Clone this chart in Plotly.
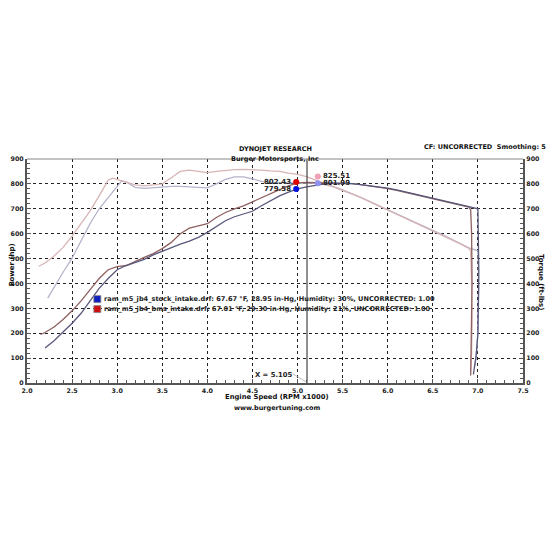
import plotly.graph_objects as go

# ---------------- data ----------------
stock_hp_rpm = [2.2, 2.3, 2.4, 2.5, 2.6, 2.7, 2.8, 2.9, 3.0, 3.1, 3.2, 3.3, 3.4, 3.5, 3.6, 3.7, 3.8, 3.9,
                4.0, 4.1, 4.2, 4.3, 4.4, 4.5, 4.6, 4.7, 4.8, 4.9, 5.0, 5.1, 5.2, 5.3, 5.4, 5.5, 5.6, 5.7,
                5.8, 5.9, 6.0, 6.1, 6.2, 6.3, 6.4, 6.5, 6.6, 6.7, 6.8, 6.9, 7.0, 7.01, 7.0, 6.98, 6.96, 6.95]
stock_hp = [141, 170, 205, 240, 280, 330, 380, 420, 455, 472, 485, 497, 515, 530, 545, 558, 570, 585,
            605, 630, 652, 668, 678, 690, 712, 733, 752, 767, 780, 788, 795, 800, 803, 803, 801, 797,
            793, 789, 783, 776, 768, 760, 752, 744, 736, 727, 718, 709, 700, 450, 200, 110, 60, 35]

stock_tq_rpm = [2.23, 2.3, 2.4, 2.5, 2.6, 2.7, 2.8, 2.9, 3.0, 3.05, 3.1, 3.2, 3.3, 3.4, 3.5, 3.6, 3.7, 3.8,
                3.9, 4.0, 4.1, 4.2, 4.3, 4.4, 4.5, 4.6, 4.7, 4.8, 4.9, 5.0, 5.1, 5.2, 5.3, 5.4, 5.5, 5.6,
                5.7, 5.8, 5.9, 6.0, 6.1, 6.2, 6.3, 6.4, 6.5, 6.6, 6.7, 6.8, 6.9, 7.0, 7.01, 7.0, 6.98, 6.96]
stock_tq = [341, 385, 445, 502, 570, 641, 700, 745, 792, 812, 808, 786, 782, 785, 787, 790, 790, 788,
            784, 784, 800, 818, 828, 828, 820, 810, 806, 805, 803, 802, 802, 802, 797, 789, 776, 762,
            746, 729, 712, 696, 680, 664, 647, 630, 613, 597, 580, 561, 543, 531, 380, 200, 100, 60]

bms_hp_rpm = [2.15, 2.2, 2.3, 2.4, 2.5, 2.6, 2.7, 2.8, 2.9, 3.0, 3.1, 3.2, 3.3, 3.4, 3.5, 3.6, 3.7, 3.8,
              3.9, 4.0, 4.1, 4.2, 4.3, 4.4, 4.5, 4.6, 4.7, 4.8, 4.9, 5.0, 5.1, 5.2, 5.3, 5.4, 5.5, 5.6,
              5.7, 5.8, 5.9, 6.0, 6.1, 6.2, 6.3, 6.4, 6.5, 6.6, 6.7, 6.8, 6.9, 6.92, 6.93, 6.935, 6.93,
              6.925, 6.92]
bms_hp = [195, 203, 225, 255, 290, 330, 375, 420, 455, 468, 472, 490, 505, 520, 540, 565, 600, 622,
          632, 640, 665, 685, 700, 712, 728, 745, 762, 777, 792, 804, 806, 805, 804, 804, 803, 801,
          797, 792, 787, 781, 774, 766, 758, 750, 742, 734, 725, 716, 707, 695, 600, 400, 200, 80, 30]

bms_tq_rpm = [2.13, 2.2, 2.3, 2.4, 2.5, 2.6, 2.7, 2.8, 2.9, 2.95, 3.0, 3.1, 3.2, 3.3, 3.4, 3.5, 3.6, 3.7,
              3.8, 3.9, 4.0, 4.1, 4.2, 4.3, 4.4, 4.5, 4.6, 4.7, 4.8, 4.9, 5.0, 5.1, 5.2, 5.3, 5.4, 5.5,
              5.6, 5.7, 5.8, 5.9, 6.0, 6.1, 6.2, 6.3, 6.4, 6.5, 6.6, 6.7, 6.8, 6.9, 6.92, 6.93, 6.935,
              6.93, 6.92]
bms_tq = [469, 482, 510, 545, 590, 640, 692, 752, 815, 823, 818, 805, 796, 792, 795, 800, 825, 850,
          855, 850, 845, 850, 855, 857, 858, 858, 855, 852, 850, 843, 838, 829, 815, 802, 790, 776,
          762, 746, 729, 712, 695, 679, 663, 646, 629, 612, 596, 579, 560, 541, 530, 400, 250, 120, 50]

cursor_rpm = 5.105
marker_labels = ["802.43", "779.58", "825.51", "801.99"]
marker_values = [802.43, 779.58, 825.51, 801.99]

legend_lines = [
    "ram_m5_jb4_stock_intake.drf: 67.67 °F, 28.95 in-Hg, Humidity: 30%, UNCORRECTED: 1.00",
    "ram_m5_jb4_bms_intake.drf: 67.01 °F, 29.30 in-Hg, Humidity: 21%, UNCORRECTED: 1.00",
]

x_ticks = [2.0, 2.5, 3.0, 3.5, 4.0, 4.5, 5.0, 5.5, 6.0, 6.5, 7.0, 7.5]
y_ticks = [0, 100, 200, 300, 400, 500, 600, 700, 800, 900]

# ---------------- style ----------------
FONT = "DejaVu Sans"
C_STOCK_HP = "#58587c"
C_STOCK_TQ = "#b4b4cc"
C_BMS_HP = "#906060"
C_BMS_TQ = "#d8b4b4"

fig = go.Figure()
fig.add_trace(go.Scatter(x=stock_tq_rpm, y=stock_tq, mode="lines",
                         line=dict(color=C_STOCK_TQ, width=1.3), hoverinfo="skip"))
fig.add_trace(go.Scatter(x=bms_tq_rpm, y=bms_tq, mode="lines",
                         line=dict(color=C_BMS_TQ, width=1.3), hoverinfo="skip"))
fig.add_trace(go.Scatter(x=bms_hp_rpm, y=bms_hp, mode="lines",
                         line=dict(color=C_BMS_HP, width=1.3), hoverinfo="skip"))
fig.add_trace(go.Scatter(x=stock_hp_rpm, y=stock_hp, mode="lines",
                         line=dict(color=C_STOCK_HP, width=1.3), hoverinfo="skip"))

# cursor line
fig.add_shape(type="line", x0=cursor_rpm, x1=cursor_rpm, y0=0, y1=900,
              line=dict(color="#444", width=1.2))
fig.add_shape(type="line", x0=4.93, y0=40, x1=cursor_rpm, y1=3,
              line=dict(color="#aaa", width=0.8))
fig.add_annotation(x=4.73, y=34, text="<b>X = %.3f</b>" % cursor_rpm, showarrow=False,
                   font=dict(family=FONT, size=6.8, color="#222"))

# markers (power markers drawn left of cursor, torque right)
mk_x = [cursor_rpm - 0.12, cursor_rpm - 0.12, cursor_rpm + 0.12, cursor_rpm + 0.12]
mk_y_vis = [808, 779, 830, 803]
mk_col = ["#e00000", "#0010e0", "#f0a0b4", "#9090f0"]
fig.add_trace(go.Scatter(x=mk_x, y=mk_y_vis, mode="markers",
                         marker=dict(color=mk_col, size=6), hoverinfo="skip"))
for i, (lab, v) in enumerate(zip(marker_labels, marker_values)):
    left = i < 2
    fig.add_annotation(x=mk_x[i], y=mk_y_vis[i], text="<b>%s</b>" % lab, showarrow=False,
                       xanchor="right" if left else "left", xshift=-3 if left else 3,
                       font=dict(family=FONT, size=7, color="#222"))

# legend
leg_y = [337, 297]
leg_c = ["#1020c0", "#d01010"]
fig.add_trace(go.Scatter(x=[2.78, 2.78], y=leg_y, mode="markers",
                         marker=dict(symbol="square", size=7, color=leg_c,
                                     line=dict(color="#888", width=0.8)), hoverinfo="skip"))
for t, yv in zip(legend_lines, leg_y):
    fig.add_annotation(x=2.83, y=yv, text="<b>%s</b>" % t, showarrow=False, xanchor="left",
                       font=dict(family=FONT, size=6.6, color="#222"))

# titles
ann_font = dict(family=FONT, size=6.5, color="#111")
fig.add_annotation(xref="paper", yref="paper", x=0.50, y=1.071, text="<b>DYNOJET RESEARCH</b>",
                   showarrow=False, font=ann_font)
fig.add_annotation(xref="paper", yref="paper", x=0.50, y=1.027, text="<b>Burger Motorsports, Inc</b>",
                   showarrow=False, font=ann_font)
fig.add_annotation(xref="paper", yref="paper", x=1.05, y=1.080, xanchor="right",
                   text="<b>CF: UNCORRECTED  Smoothing: 5</b>", showarrow=False, font=ann_font)
fig.add_annotation(xref="paper", yref="paper", x=0.504, y=-0.084, text="<b>Engine Speed (RPM x1000)</b>",
                   showarrow=False, borderpad=0, font=dict(family=FONT, size=6.8, color="#111"))
fig.add_annotation(xref="paper", yref="paper", x=0.504, y=-0.138, text="<b>www.burgertuning.com</b>",
                   showarrow=False, font=dict(family=FONT, size=6.5, color="#111"))
fig.add_annotation(xref="paper", yref="paper", x=-0.043, y=0.527, text="<b>Power (hp)</b>",
                   textangle=-90, showarrow=False, font=dict(family=FONT, size=7, color="#111"))
fig.add_annotation(xref="paper", yref="paper", x=1.047, y=0.45, text="<b>Torque (ft-lbs)</b>",
                   textangle=90, showarrow=False, font=dict(family=FONT, size=7, color="#111"))

axis_common = dict(showline=True, linecolor="#555", linewidth=2, mirror=False, automargin=False,
                   ticks="inside", ticklen=4, tickcolor="#555", tickwidth=1,
                   tickfont=dict(family=FONT, size=6.3, color="#222", weight="bold"), zeroline=False)

fig.update_layout(
    width=550, height=550, showlegend=False,
    margin=dict(l=27, r=27, t=159, b=167, autoexpand=False),
    paper_bgcolor="white", plot_bgcolor="white",
    xaxis=dict(range=[2.0, 7.5], tickvals=x_ticks, ticktext=["%.1f" % v for v in x_ticks],
               showgrid=True, gridcolor="#222", griddash="dot", gridwidth=1,
               minor=dict(dtick=0.1, ticks="inside", ticklen=3, tickcolor="#555", showgrid=False),
               **axis_common),
    yaxis=dict(range=[0, 900], tickvals=y_ticks, showgrid=True, gridcolor="#222", griddash="dot",
               gridwidth=1, minor=dict(dtick=20, ticks="inside", ticklen=3, tickcolor="#555", showgrid=False),
               **axis_common),
    yaxis2=dict(range=[0, 900], tickvals=y_ticks, overlaying="y", side="right", showgrid=False,
                minor=dict(dtick=20, ticks="inside", ticklen=3, tickcolor="#555"),
                **axis_common),
)
# invisible trace to activate yaxis2
fig.add_trace(go.Scatter(x=[2.0], y=[0], yaxis="y2", mode="markers", marker=dict(opacity=0),
                         hoverinfo="skip"))
# top border
fig.add_shape(type="line", xref="paper", yref="paper", x0=0, x1=1, y0=1, y1=1,
              line=dict(color="#888", width=1))

fig.write_html("out.html", config={"displayModeBar": False},
               post_script="document.body.style.margin='0';document.body.style.padding='0';")
